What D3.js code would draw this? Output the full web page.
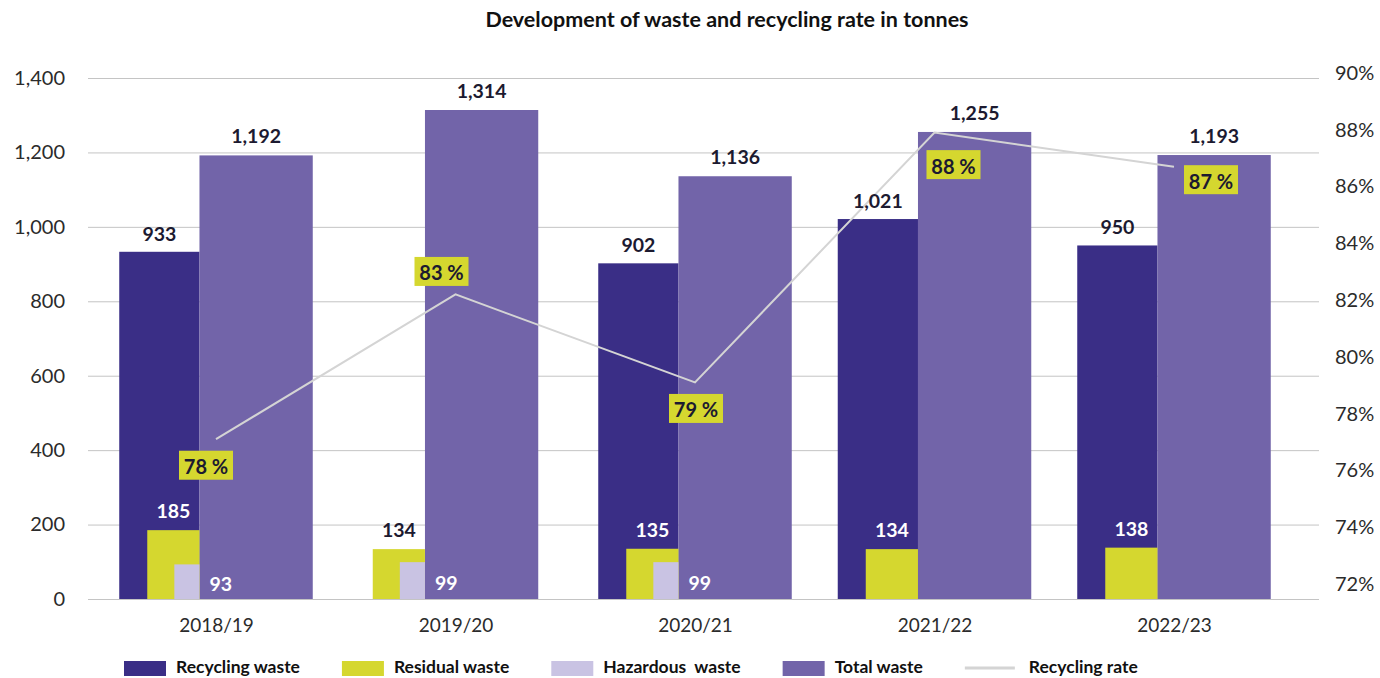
<!DOCTYPE html>
<html>
<head>
<meta charset="utf-8">
<script src="https://cdn.jsdelivr.net/npm/d3@7"></script>
<style>
  html, body { margin: 0; padding: 0; background: #ffffff; }
  svg { display: block; font-family: Lato, "Open Sans", sans-serif; }
</style>
</head>
<body>
<svg id="chart" width="1380" height="678"></svg>
<script>
// ---- data ----
const categories = ["2018/19", "2019/20", "2020/21", "2021/22", "2022/23"];
const recyclingWaste = [933, null, 902, 1021, 950];
const residualWaste = [185, 134, 135, 134, 138];
const hazardousWaste = [93, 99, 99, null, null];
const totalWaste = [1192, 1314, 1136, 1255, 1193];
const recyclingRate = [77.1, 82.2, 79.1, 87.9, 86.7];
const rateLabels = ["78 %", "83 %", "79 %", "88 %", "87 %"];
const leftTicks = [0, 200, 400, 600, 800, 1000, 1200, 1400];
const rightTicks = [72, 74, 76, 78, 80, 82, 84, 86, 88, 90];
const seriesNames = ["Recycling waste", "Residual waste", "Hazardous  waste", "Total waste", "Recycling rate"];

// ---- styles ----
const colors = {
  recycling: "#3a2e86",
  residual: "#d5d72f",
  hazardous: "#c9c3e3",
  total: "#7264a9",
  rate: "#d4d4d4",
  grid: "#c4c4c4",
  text: "#2b2b2b",
  dark: "#1c1a30"
};

const W = 1380, H = 678;
const plot = { left: 88, right: 1319, top: 78, bottom: 599 };
const svg = d3.select("#chart");

// scales
const x = d3.scalePoint().domain(categories).range([216, 1174]);
const step = x.step();
const y = d3.scaleLinear().domain([0, 1400]).range([plot.bottom, plot.top]);
const yR = d3.scaleLinear().domain([72, 90]).range([plot.bottom - 15, plot.top - 5]);

const wRec = step * 0.335, wTot = step * 0.473, wRes = step * 0.218, wHaz = step * 0.105;

// title
svg.append("text")
  .attr("x", 727).attr("y", 27)
  .attr("text-anchor", "middle")
  .attr("font-size", 21.5).attr("font-weight", 700)
  .attr("fill", "#111")
  .text("Development of waste and recycling rate in tonnes");

// gridlines
svg.append("g").selectAll("line").data(leftTicks).join("line")
  .attr("x1", plot.left).attr("x2", plot.right)
  .attr("y1", d => y(d) + 0.5).attr("y2", d => y(d) + 0.5)
  .attr("stroke", colors.grid).attr("stroke-width", 1);

// left axis (labels only)
const leftAxis = d3.axisLeft(y).tickValues(leftTicks).tickSize(0).tickPadding(0)
  .tickFormat(d3.format(","));
const gL = svg.append("g").attr("transform", `translate(65,0)`).call(leftAxis);
gL.select(".domain").remove();
gL.selectAll("text").attr("font-size", 20).attr("fill", colors.text)
  .attr("font-family", "Lato, sans-serif").attr("font-weight", 400);

// right axis
const rightAxis = d3.axisRight(yR).tickValues(rightTicks).tickSize(0).tickPadding(0)
  .tickFormat(d => d + "%");
const gR = svg.append("g").attr("transform", `translate(1335,0)`).call(rightAxis);
gR.select(".domain").remove();
gR.selectAll("text").attr("font-size", 20).attr("fill", colors.text)
  .attr("font-family", "Lato, sans-serif").attr("font-weight", 400);

// x axis labels
const xAxis = d3.axisBottom(x).tickSize(0).tickPadding(0);
const gX = svg.append("g").attr("transform", `translate(0,${plot.bottom + 19})`).call(xAxis);
gX.select(".domain").remove();
gX.selectAll("text").attr("font-size", 19).attr("fill", colors.text)
  .attr("font-family", "Lato, sans-serif").attr("font-weight", 400);

// group split positions
const rows = categories.map((c, i) => {
  const cx = x(c);
  const hasRec = recyclingWaste[i] != null;
  const split = hasRec ? cx - (wRec + wTot) / 2 + wRec : cx - (wRes + wTot) / 2 + wRes;
  return { c, i, cx, split, rec: recyclingWaste[i], res: residualWaste[i], haz: hazardousWaste[i], tot: totalWaste[i], rate: recyclingRate[i] };
});

const bars = svg.append("g");
bars.selectAll("rect.rec").data(rows.filter(d => d.rec != null)).join("rect")
  .attr("class", "rec")
  .attr("x", d => d.split - wRec).attr("width", wRec)
  .attr("y", d => y(d.rec)).attr("height", d => y(0) - y(d.rec))
  .attr("fill", colors.recycling);
bars.selectAll("rect.tot").data(rows).join("rect")
  .attr("class", "tot")
  .attr("x", d => d.split).attr("width", wTot)
  .attr("y", d => y(d.tot)).attr("height", d => y(0) - y(d.tot))
  .attr("fill", colors.total);
bars.selectAll("rect.res").data(rows.filter(d => d.res != null)).join("rect")
  .attr("class", "res")
  .attr("x", d => d.split - wRes).attr("width", wRes)
  .attr("y", d => y(d.res)).attr("height", d => y(0) - y(d.res))
  .attr("fill", colors.residual);
bars.selectAll("rect.haz").data(rows.filter(d => d.haz != null)).join("rect")
  .attr("class", "haz")
  .attr("x", d => d.split - wHaz).attr("width", wHaz)
  .attr("y", d => y(d.haz)).attr("height", d => y(0) - y(d.haz))
  .attr("fill", colors.hazardous);

// recycling rate line
const line = d3.line().x(d => d.cx).y(d => yR(d.rate));
svg.append("path").datum(rows)
  .attr("d", line).attr("fill", "none")
  .attr("stroke", colors.rate).attr("stroke-width", 2);

// value labels
const fmt = d3.format(",");
const lab = svg.append("g").attr("font-weight", 700).attr("font-size", 19.5).attr("text-anchor", "middle");
lab.selectAll("text.rec").data(rows.filter(d => d.rec != null)).join("text")
  .attr("x", d => d.split - wRec / 2).attr("y", d => y(d.rec) - 11)
  .attr("fill", colors.dark).text(d => fmt(d.rec));
lab.selectAll("text.tot").data(rows).join("text")
  .attr("x", d => d.split + wTot / 2).attr("y", d => y(d.tot) - 12)
  .attr("fill", colors.dark).text(d => fmt(d.tot));
lab.selectAll("text.res").data(rows.filter(d => d.res != null)).join("text")
  .attr("x", d => d.split - wRes / 2).attr("y", d => y(d.res) - 12)
  .attr("fill", d => d.rec != null ? "#ffffff" : colors.dark).text(d => fmt(d.res));
lab.selectAll("text.haz").data(rows.filter(d => d.haz != null)).join("text")
  .attr("text-anchor", "start")
  .attr("x", d => d.split + 10).attr("y", d => (y(d.haz) + y(0)) / 2 + 4)
  .attr("dominant-baseline", "middle")
  .attr("fill", "#ffffff").text(d => fmt(d.haz));

// rate label boxes (offsets relative to group center / line vertex)
const boxOffsets = [[-10, 26], [-14, -23], [1, 26], [19, 32], [37, 13]];
const boxW = 54, boxH = 29;
const rb = svg.append("g").selectAll("g").data(rows).join("g")
  .attr("transform", d => `translate(${d.cx + boxOffsets[d.i][0]},${yR(d.rate) + boxOffsets[d.i][1]})`);
rb.append("rect").attr("x", -boxW / 2).attr("y", -boxH / 2).attr("width", boxW).attr("height", boxH)
  .attr("fill", colors.residual);
rb.append("text").attr("text-anchor", "middle").attr("dominant-baseline", "central")
  .attr("y", 1)
  .attr("font-size", 20).attr("font-weight", 700).attr("fill", colors.dark)
  .text(d => rateLabels[d.i]);

// legend
const legend = svg.append("g").attr("transform", "translate(124,669)");
const legendItems = [
  { name: seriesNames[0], color: colors.recycling, type: "rect" },
  { name: seriesNames[1], color: colors.residual, type: "rect" },
  { name: seriesNames[2], color: colors.hazardous, type: "rect" },
  { name: seriesNames[3], color: colors.total, type: "rect" },
  { name: seriesNames[4], color: colors.rate, type: "line" }
];
let lx = 0;
legendItems.forEach(it => {
  const g = legend.append("g").attr("transform", `translate(${lx},0)`);
  let sw;
  if (it.type === "rect") {
    sw = 42;
    g.append("rect").attr("x", 0).attr("y", -8).attr("width", sw).attr("height", 15).attr("fill", it.color);
  } else {
    sw = 50;
    g.append("line").attr("x1", 0).attr("x2", sw).attr("y1", -1).attr("y2", -1)
      .attr("stroke", it.color).attr("stroke-width", 3);
  }
  const t = g.append("text").attr("x", sw + (it.type === "rect" ? 10 : 14)).attr("y", 0)
    .attr("dominant-baseline", "middle")
    .attr("font-size", 17.5).attr("font-weight", 700).attr("fill", "#111")
    .attr("xml:space", "preserve").style("white-space", "pre")
    .text(it.name);
  lx += sw + (it.type === "rect" ? 10 : 14) + t.node().getComputedTextLength() + 42;
});
</script>
</body>
</html>
